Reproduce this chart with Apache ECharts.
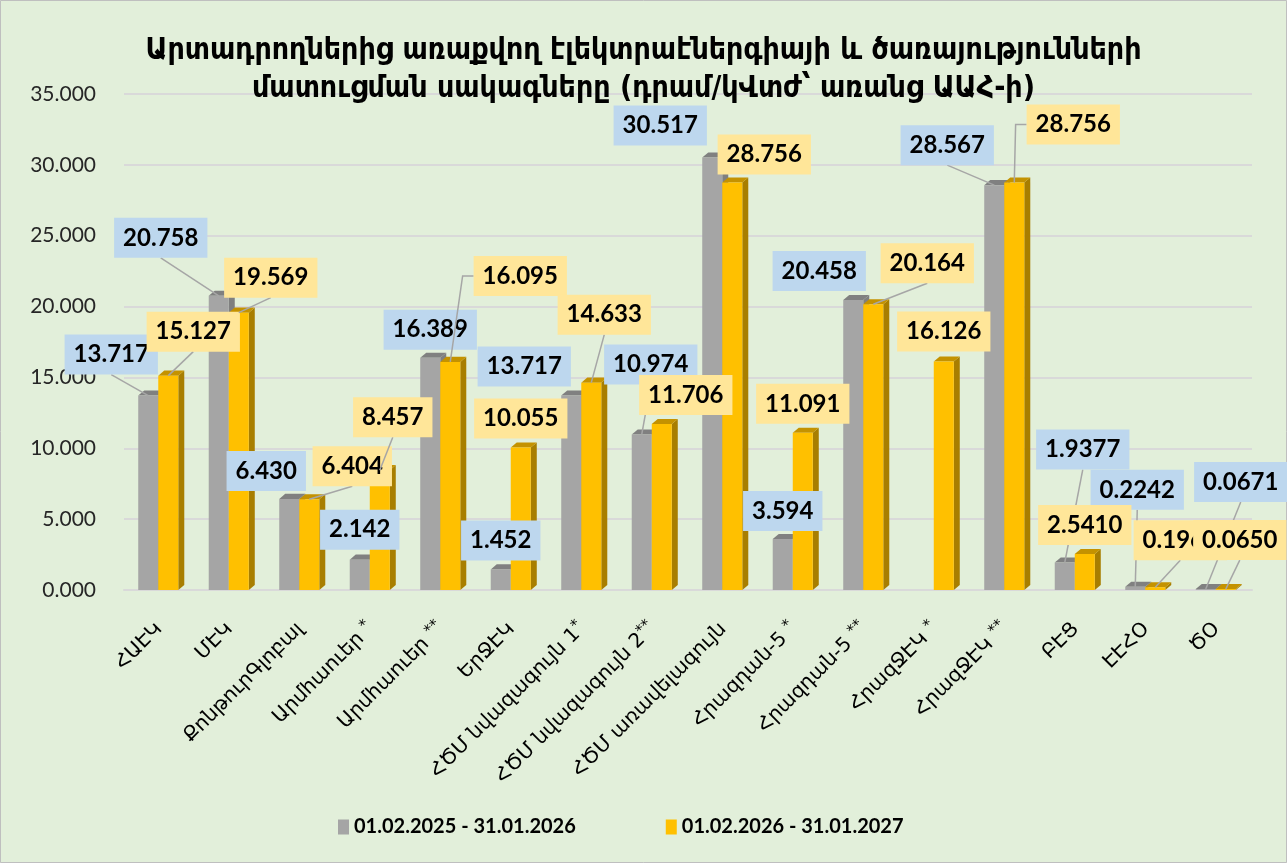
<!DOCTYPE html>
<html>
<head>
<meta charset="utf-8">
<title>Սակագներ</title>
<script src="https://cdn.jsdelivr.net/npm/echarts@6/dist/echarts.min.js"></script>
<style>
  html, body { margin: 0; padding: 0; background: #E2EFDA; }
  #chart { width: 1287px; height: 863px; }
</style>
</head>
<body>
<div id="chart"></div>
<script>
// կատեգորիաներ (x առանցք)
var categories = ['ՀԱԷԿ', 'ՄԷԿ', 'ՔոնթուրԳլոբալ', 'Արմհաուեր *', 'Արմհաուեր **', 'ԵրՋԷԿ',
  'ՀԾՄ նվազագույն 1*', 'ՀԾՄ նվազագույն 2**', 'ՀԾՄ առավելագույն', 'Հրազդան-5 *', 'Հրազդան-5 **',
  'ՀրազՋԷԿ *', 'ՀրազՋԷԿ **', 'ԲԷՑ', 'ԷԷՀՕ', 'ԾՕ'];
var seriesNames = ['01.02.2025 - 31.01.2026', '01.02.2026 - 31.01.2027'];
var values2025 = [13.717, 20.758, 6.430, 2.142, 16.389, 1.452, 13.717, 10.974, 30.517, 3.594, 20.458, null, 28.567, 1.9377, 0.2242, 0.0671];
var values2026 = [15.127, 19.569, 6.404, 8.457, 16.095, 10.055, 14.633, 11.706, 28.756, 11.091, 20.164, 16.126, 28.756, 2.5410, 0.1960, 0.0650];
var yMin = 0, yMax = 35, yStep = 5;

// պիտակների տեղաշարժ (px) սյան գագաթից, և ուղեցույց գծի տեսակը (0 չկա, 1 ուղիղ, 2 կոտրված)
var labelShift2025 = [[-37, -41], [-58, -58], [-23, -28], [0, -30], [0, -28], [0, -29], [-47, -29], [9, -70],
  [-52, -32], [0, -28], [-34, -29], null, [-47, -40], [18, -113], [2, -97], [35, -107]];
var leader2025 = [1, 1, 0, 0, 0, 0, 0, 1, 0, 0, 0, 0, 1, 1, 1, 1];
var labelShift2026 = [[25, -44], [32, -35], [43, -33], [13, -53], [70, -86], [0, -29], [13, -68], [24, -29],
  [32, -28], [0, -29], [54, -41], [0, -30], [59, -58], [0, -29], [25, -47], [14, -49]];
var leader2026 = [1, 1, 1, 1, 2, 0, 1, 0, 0, 0, 1, 0, 2, 0, 1, 1];

var BAR_FRAC = 0.284;      // սյան լայնությունը կատեգորիայի լայնության մասով
var DEPTH_FRAC = 0.085;    // 3D խորություն
var LABEL_FONT = 'bold 24px Lato, "Open Sans", sans-serif';
var PAD = [8, 9];

var measureCtx = document.createElement('canvas').getContext('2d');
measureCtx.font = LABEL_FONT;

function fmt(v, i) {
  return i >= 13 ? v.toFixed(4) : v.toFixed(3);
}

function barRenderer(startFrac, colors) {
  return function (params, api) {
    var v = api.value(1);
    if (v == null || isNaN(v)) return;
    var band = api.size([1, 0])[0];
    var base = api.coord([api.value(0), 0]);
    var top = api.coord([api.value(0), v]);
    var w = band * BAR_FRAC;
    var x0 = base[0] + band * startFrac, x1 = x0 + w;
    var dx = band * DEPTH_FRAC, dy = dx * 0.85;
    var y0 = top[1], yb = base[1];
    return {
      type: 'group',
      children: [
        { type: 'polygon', shape: { points: [[x1, yb], [x1, y0], [x1 + dx, y0 - dy], [x1 + dx, yb - dy]] }, style: { fill: colors.side } },
        { type: 'polygon', shape: { points: [[x0, y0], [x0 + dx, y0 - dy], [x1 + dx, y0 - dy], [x1, y0]] }, style: { fill: colors.top } },
        { type: 'rect', shape: { x: x0, y: y0, width: w, height: yb - y0 }, style: { fill: colors.front } }
      ]
    };
  };
}

function labelRenderer(centerFrac, shifts, leaders, bg) {
  return function (params, api) {
    var i = params.dataIndex;
    var v = api.value(1);
    if (v == null || isNaN(v) || !shifts[i]) return;
    var band = api.size([1, 0])[0];
    var p = api.coord([api.value(0), v]);
    var ax = p[0] + band * centerFrac, ay = p[1];
    var lx = ax + shifts[i][0], ly = ay + shifts[i][1];
    var txt = fmt(v, i);
    var hw = measureCtx.measureText(txt).width / 2 + PAD[1];
    var hh = 12 + PAD[0];
    var kids = [];
    var lineStyle = { stroke: '#A6A6A6', lineWidth: 1.5, fill: null };
    if (leaders[i] === 1) {
      kids.push({ type: 'line', shape: { x1: lx, y1: ly + hh, x2: ax, y2: ay }, style: lineStyle });
    } else if (leaders[i] === 2) {
      kids.push({ type: 'polyline', shape: { points: [[lx - hw, ly], [lx - hw - 11, ly], [ax, ay]] }, style: lineStyle });
    }
    kids.push({
      type: 'text', x: lx, y: ly,
      style: {
        text: txt, font: LABEL_FONT, fill: '#000', align: 'center', verticalAlign: 'middle',
        backgroundColor: bg, padding: PAD, lineHeight: 24
      }
    });
    return { type: 'group', children: kids };
  };
}

function toData(arr) {
  return arr.map(function (v, i) { return [i, v]; });
}

var chart = echarts.init(document.getElementById('chart'));
var option = {
  backgroundColor: '#E2EFDA',
  animation: false,
  title: {
    text: 'Արտադրողներից առաքվող էլեկտրաէներգիայի և ծառայությունների\nմատուցման սակագները (դրամ/կՎտժ՝ առանց ԱԱՀ-ի)',
    left: 'center',
    top: 27,
    textStyle: {
      fontFamily: '"DejaVu Sans Condensed", "DejaVu Sans", sans-serif',
      fontWeight: 'bold', fontSize: 30, lineHeight: 38, color: '#000'
    }
  },
  legend: {
    data: seriesNames,
    left: 333,
    top: 812,
    icon: 'rect',
    itemWidth: 11,
    itemHeight: 15,
    itemGap: 90,
    textStyle: {
      fontFamily: 'Lato, sans-serif',
      fontWeight: 'bold', fontSize: 20, color: '#000'
    }
  },
  graphic: [{
    type: 'rect', shape: { x: 0.5, y: 0.5, width: 1286, height: 862 },
    style: { fill: null, stroke: '#BFBFBF', lineWidth: 1 }
  }],
  grid: { left: 124, right: 35, top: 94, bottom: 273 },
  xAxis: {
    type: 'category',
    data: categories,
    axisLine: { show: true, lineStyle: { color: '#D9D9D9', width: 2 } },
    axisTick: { show: false },
    axisLabel: {
      interval: 0, rotate: 45, margin: 36, color: '#000',
      fontFamily: '"DejaVu Sans", sans-serif', fontSize: 20,
      formatter: function (s) { return s.replace(/(\*+)/, '{s|$1}'); },
      rich: { s: { fontSize: 15, verticalAlign: 'top', padding: [0, 0, 10, 0], color: '#000' } }
    }
  },
  yAxis: {
    type: 'value',
    min: yMin, max: yMax, interval: yStep,
    axisLine: { show: false },
    axisTick: { show: false },
    splitLine: { lineStyle: { color: '#D9D9D9', width: 2 } },
    axisLabel: {
      margin: 28, color: '#262626', fontSize: 21,
      fontFamily: 'Lato, "Open Sans", sans-serif',
      formatter: function (v) { return v.toFixed(3); }
    }
  },
  series: [
    {
      name: seriesNames[0], type: 'custom', z: 2,
      itemStyle: { color: '#A5A5A5' },
      encode: { x: 0, y: 1 },
      data: toData(values2025),
      renderItem: barRenderer(-0.298, { front: '#A5A5A5', top: '#808080', side: '#7F7F7F' })
    },
    {
      name: seriesNames[1], type: 'custom', z: 3,
      itemStyle: { color: '#FFC000' },
      encode: { x: 0, y: 1 },
      data: toData(values2026),
      renderItem: barRenderer(-0.014, { front: '#FFC000', top: '#C49200', side: '#A87E00' })
    },
    {
      name: 'lbl2025', type: 'custom', z: 10, clip: false, silent: true,
      encode: { x: 0, y: 1 },
      data: toData(values2025),
      renderItem: labelRenderer(-0.156, labelShift2025, leader2025, '#BDD7EE')
    },
    {
      name: 'lbl2026', type: 'custom', z: 11, clip: false, silent: true,
      encode: { x: 0, y: 1 },
      data: toData(values2026),
      renderItem: labelRenderer(0.128, labelShift2026, leader2026, '#FFE699')
    }
  ]
};
chart.setOption(option);
</script>
</body>
</html>
